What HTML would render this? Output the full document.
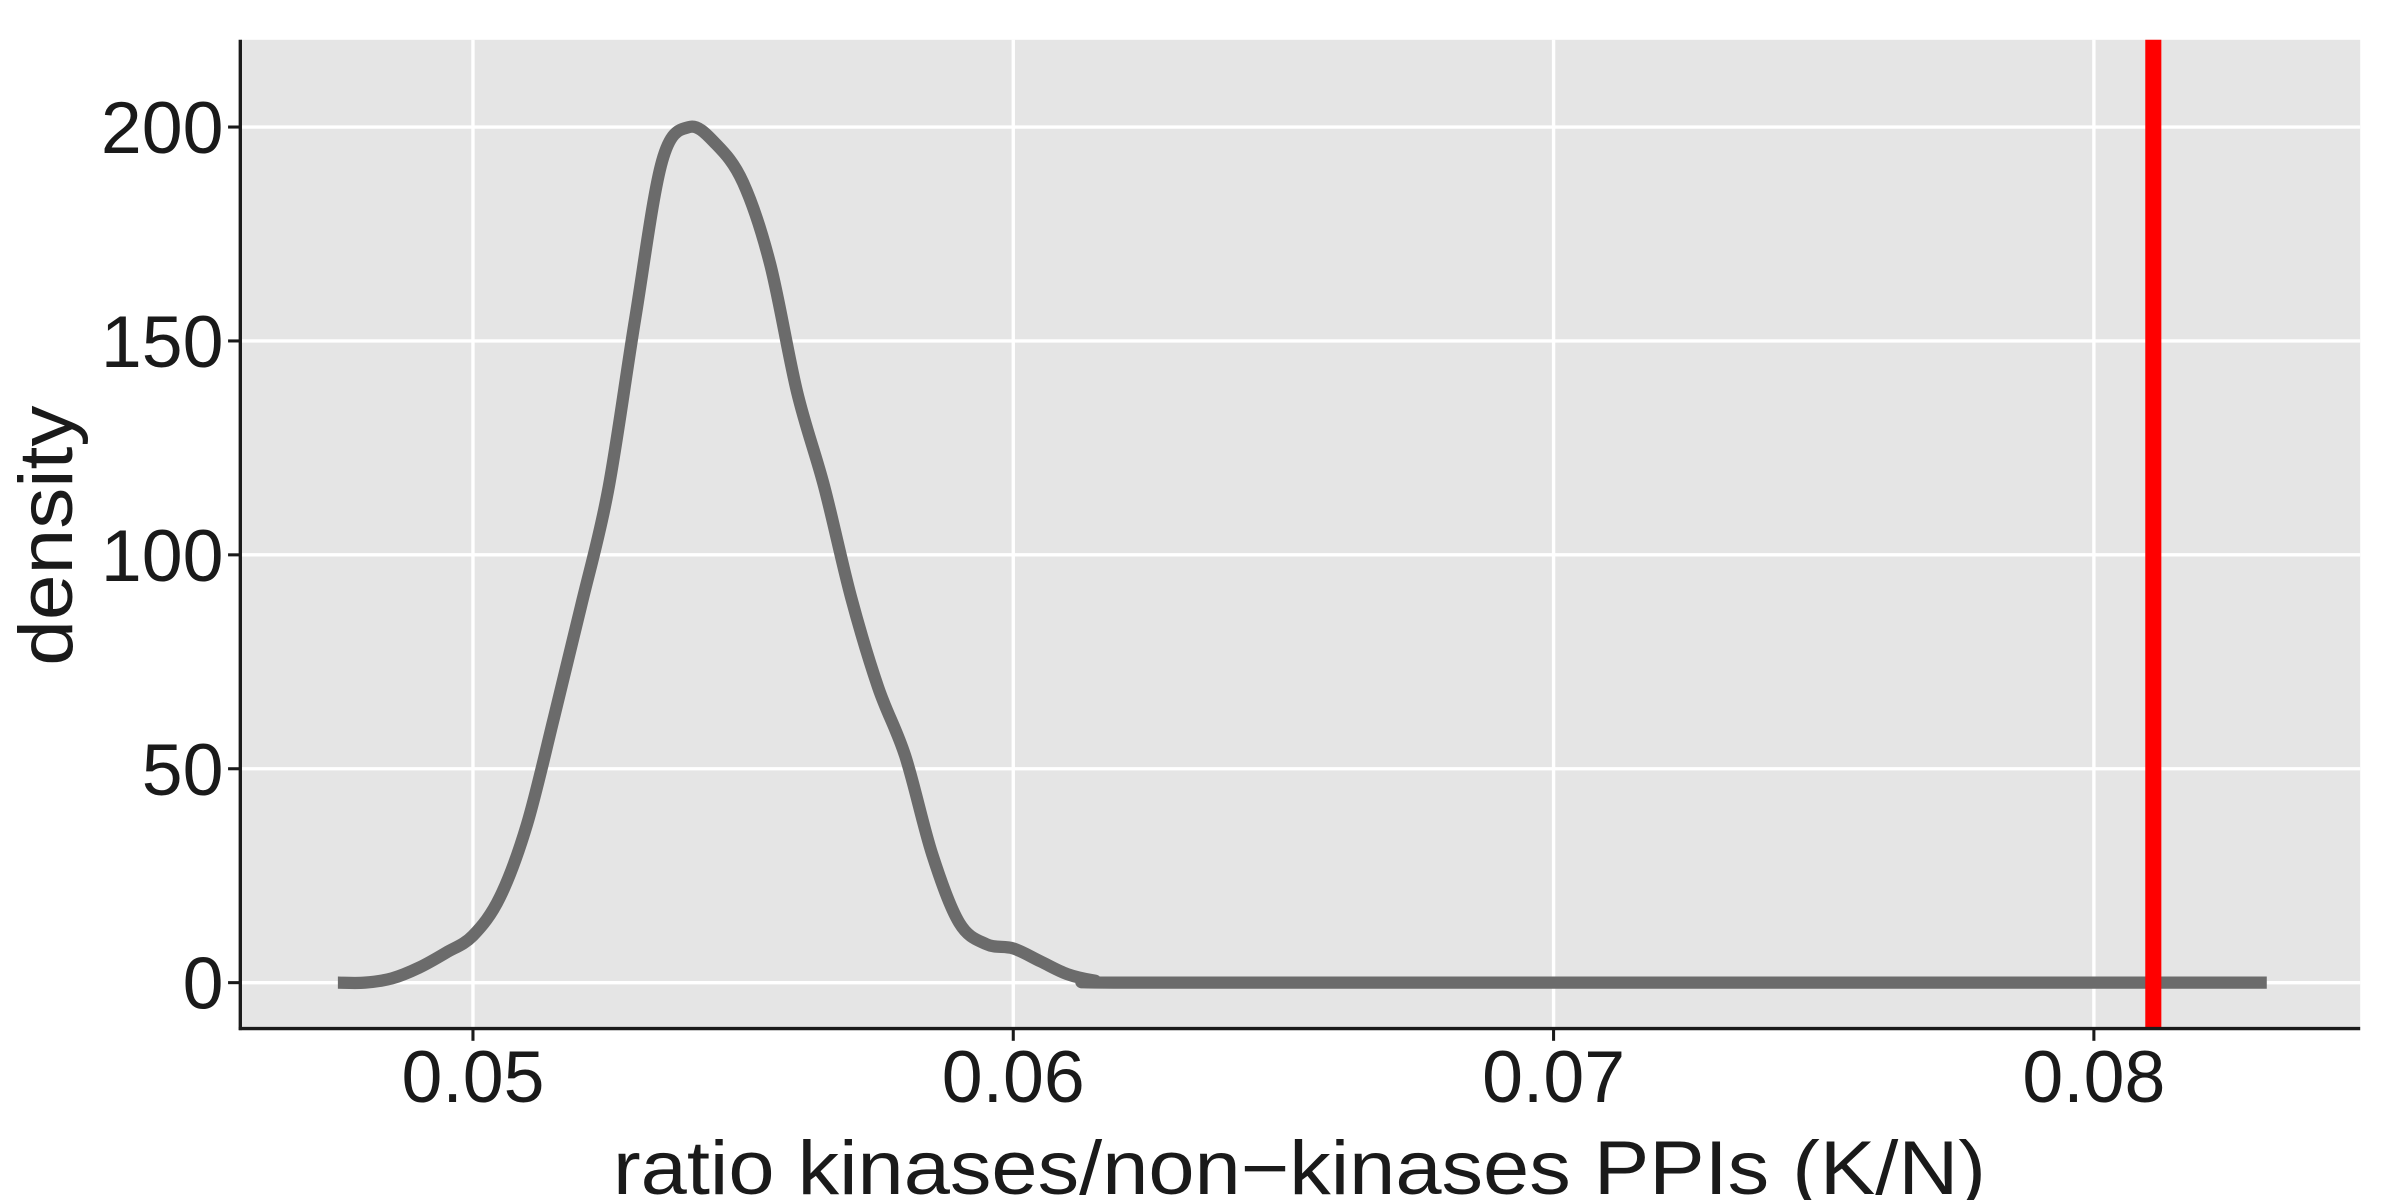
<!DOCTYPE html>
<html><head><meta charset="utf-8"><style>
html,body{margin:0;padding:0;background:#fff;}
svg{display:block;}
text{font-family:"Liberation Sans",Arial,sans-serif;fill:#1a1a1a;}
</style></head><body>
<svg id="chart" width="2400" height="1200" viewBox="0 0 1568 784" preserveAspectRatio="none" xmlns="http://www.w3.org/2000/svg">
<rect x="157" y="26" width="1385" height="646" fill="#e5e5e5"/>
<g id="grid"></g>
<g id="series"></g>
<g id="axes"></g>
</svg>
<script>
const xTicks = [0.05, 0.06, 0.07, 0.08];
const xTickLabels = ["0.05", "0.06", "0.07", "0.08"];
const yTicks = [0, 50, 100, 150, 200];
const yTickLabels = ["0", "50", "100", "150", "200"];
const densityX = [0.0475,0.048,0.0485,0.049,0.0495,0.050,0.0505,0.051,0.0515,0.052,0.0525,0.053,0.0535,0.054,0.0545,0.055,0.0555,0.056,0.0565,0.057,0.0575,0.058,0.0585,0.059,0.0595,0.060,0.0605,0.061,0.0615,0.062,0.070,0.0832];
const densityY = [0,0,1,3.5,7,11,20,37,62,88,115,155,192,200,196,187,168,138,116,90,69,53,30,14,9,8,5,2,0.5,0,0,0];
const observedValue = [0.0811];

const NS = "http://www.w3.org/2000/svg";
const px0 = 157, px1 = 1542, py0 = 26, py1 = 672;
function xs(v){ return 309 + (v - 0.05) * 35300; }
function ys(v){ return 642 - v * 2.795; }
function mk(tag, attrs, parent){
  const e = document.createElementNS(NS, tag);
  for (const k in attrs) e.setAttribute(k, attrs[k]);
  parent.appendChild(e);
  return e;
}
const grid = document.getElementById('grid');
const series = document.getElementById('series');
const axes = document.getElementById('axes');

yTicks.forEach((t, i) => {
  const g = mk('line', {x1:px0, x2:px1, y1:ys(t), y2:ys(t), stroke:'#ffffff', 'stroke-width':2.2}, grid);
  
  
  const tk = mk('line', {x1:px0-8, x2:px0, y1:ys(t), y2:ys(t), stroke:'#1a1a1a', 'stroke-width':2}, axes);
  
  
  const lb = mk('text', {x:146, y:ys(t)+17, 'text-anchor':'end', 'font-size':48}, axes);
  lb.textContent = yTickLabels[i];
  
  
});
xTicks.forEach((t, i) => {
  const g = mk('line', {x1:xs(t), x2:xs(t), y1:py0, y2:py1, stroke:'#ffffff', 'stroke-width':2.2}, grid);
  
  
  const tk = mk('line', {x1:xs(t), x2:xs(t), y1:py1, y2:py1+8, stroke:'#1a1a1a', 'stroke-width':2}, axes);
  
  
  const lb = mk('text', {x:xs(t), y:720, 'text-anchor':'middle', 'font-size':48}, axes);
  lb.textContent = xTickLabels[i];
  
  
});

const pts = densityX.map((x, i) => [xs(x), ys(densityY[i])]);
let d = 'M' + pts[0][0] + ',' + pts[0][1];
for (let i = 0; i < pts.length - 1; i++){
  const p0 = pts[Math.max(0,i-1)], p1 = pts[i], p2 = pts[i+1], p3 = pts[Math.min(pts.length-1,i+2)];
  const c1x = p1[0] + (p2[0]-p0[0])/6;
  let c1y = p1[1] + (p2[1]-p0[1])/6;
  const c2x = p2[0] - (p3[0]-p1[0])/6;
  let c2y = p2[1] - (p3[1]-p1[1])/6;
  if (i >= densityX.length - 3) { c1y = p1[1]; c2y = p2[1]; }
  d += ' C' + c1x + ',' + c1y + ' ' + c2x + ',' + c2y + ' ' + p2[0] + ',' + p2[1];
}
const curve = mk('path', {d:d, fill:'none', stroke:'#6b6b6b', 'stroke-width':8, 'stroke-linejoin':'round'}, series);



observedValue.forEach(v => {
  const r = mk('line', {x1:xs(v), x2:xs(v), y1:py0, y2:py1, stroke:'#ff0000', 'stroke-width':10.5}, series);
  
  
});

const ax1 = mk('line', {x1:px0, x2:px0, y1:py0, y2:py1+1, stroke:'#1a1a1a', 'stroke-width':2.2}, axes);


const ax2 = mk('line', {x1:px0-1, x2:px1, y1:py1, y2:py1, stroke:'#1a1a1a', 'stroke-width':2.2}, axes);



const xt = mk('text', {x:849, y:780, 'text-anchor':'middle', 'font-size':50, textLength:897, lengthAdjust:'spacingAndGlyphs'}, axes);
xt.textContent = 'ratio kinases/non\u2212kinases PPIs (K/N)';


const yt = mk('text', {x:0, y:0, 'text-anchor':'middle', 'font-size':50, transform:'translate(47,350) rotate(-90)', textLength:170, lengthAdjust:'spacingAndGlyphs'}, axes);
yt.textContent = 'density';


</script>
</body></html>
